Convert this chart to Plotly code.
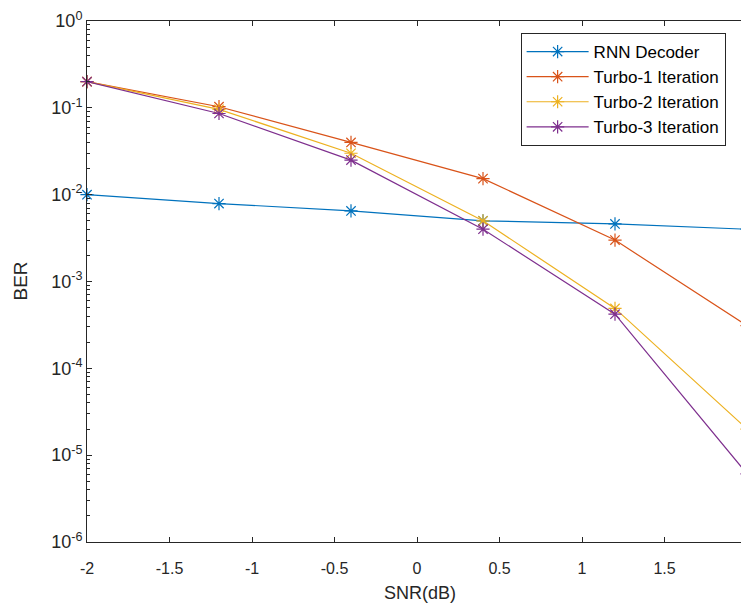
import plotly.graph_objects as go

snr = [-2.0, -1.2, -0.4, 0.4, 1.2, 2.0]
rnn = [0.0100, 0.0079, 0.0065, 0.0050, 0.0046, 0.0040]
turbo1 = [0.20, 0.103, 0.040, 0.0153, 0.0030, 0.00031]
turbo2 = [0.20, 0.096, 0.030, 0.0050, 0.00049, 0.00002]
turbo3 = [0.20, 0.086, 0.025, 0.0040, 0.00042, 0.0000061]

names = ["RNN Decoder", "Turbo-1 Iteration", "Turbo-2 Iteration", "Turbo-3 Iteration"]
colors = ["#0072BD", "#D95319", "#EDB120", "#7E2F8E"]
series = [rnn, turbo1, turbo2, turbo3]

ytick_vals = [1e-6, 1e-5, 1e-4, 1e-3, 1e-2, 1e-1, 1e0]
ytick_text = ["10<sup>-6</sup>", "10<sup>-5</sup>", "10<sup>-4</sup>", "10<sup>-3</sup>",
              "10<sup>-2</sup>", "10<sup>-1</sup>", "10<sup>0</sup>"]
xtick_vals = [-2, -1.5, -1, -0.5, 0, 0.5, 1, 1.5, 2]
xtick_text = ["-2", "-1.5", "-1", "-0.5", "0", "0.5", "1", "1.5", "2"]
x_title = "SNR(dB)"
y_title = "BER"

fig = go.Figure()
for name, col, ys in zip(names, colors, series):
    fig.add_trace(go.Scatter(
        x=snr, y=ys, name=name, mode="lines+markers",
        line=dict(color=col, width=1.2),
        marker=dict(symbol="asterisk-open", size=11, line=dict(color=col, width=1.2)),
        cliponaxis=False,
    ))

axis_col = "#262626"
fig.update_layout(
    width=741, height=598,
    margin=dict(l=79, r=2, t=13, b=64),
    paper_bgcolor="white", plot_bgcolor="white",
    font=dict(family="Liberation Sans, Arial, sans-serif", size=16, color=axis_col),
    showlegend=True,
    legend=dict(
        x=0.657, y=0.977, xanchor="left", yanchor="top",
        bordercolor=axis_col, borderwidth=1, bgcolor="white",
        font=dict(family="Liberation Sans, Arial, sans-serif", size=17, color="#000000"),
        tracegroupgap=0, itemwidth=62,
    ),
    annotations=[
        dict(text=x_title, xref="paper", yref="paper", x=0.505, y=-0.098,
             xanchor="center", yanchor="middle", showarrow=False,
             font=dict(size=18, color=axis_col)),
        dict(text=y_title, xref="paper", yref="paper", x=-0.1015, y=0.5,
             xanchor="center", yanchor="middle", showarrow=False, textangle=-90,
             font=dict(size=19, color=axis_col)),
    ],
)
fig.update_xaxes(
    range=[-2, 2], tickvals=xtick_vals, ticktext=xtick_text, automargin=False,
    tickfont=dict(size=16), ticklabeloverflow="allow", ticklabelstandoff=12,
    showgrid=False, zeroline=False, showline=True, linecolor=axis_col, linewidth=1,
    mirror="ticks", ticks="inside", ticklen=5, tickcolor=axis_col,
)
fig.update_yaxes(
    type="log", range=[-6, 0], tickvals=ytick_vals, ticktext=ytick_text, automargin=False,
    tickfont=dict(size=18),
    showgrid=False, zeroline=False, showline=True, linecolor=axis_col, linewidth=1,
    mirror="ticks", ticks="inside", ticklen=5, tickcolor=axis_col,
    minor=dict(ticks="inside", ticklen=3, tickcolor=axis_col, dtick="D1", showgrid=False),
)
fig.write_html("out.html")
